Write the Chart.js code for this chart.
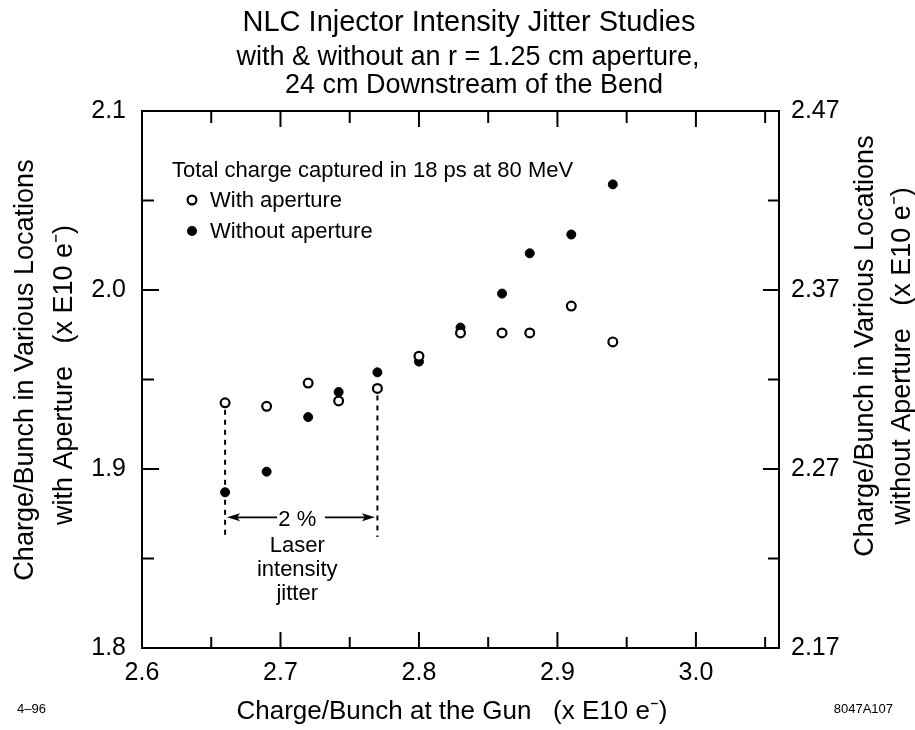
<!DOCTYPE html>
<html><head><meta charset="utf-8">
<script src="https://cdn.jsdelivr.net/npm/chart.js@4.4.1/dist/chart.umd.min.js"></script>
<style>html,body{margin:0;padding:0;background:#fff}#wrap{width:915px;height:730px}</style>
</head><body><div id="wrap"><canvas id="c" width="915" height="730"></canvas></div>
<script>
// ---------- data ----------
const titleLines = ['NLC Injector Intensity Jitter Studies', 'with & without an r = 1.25 cm aperture,', '24 cm Downstream of the Bend'];
const legendHeader = 'Total charge captured in 18 ps at 80 MeV';
const seriesNames = ['With aperture', 'Without aperture'];
const xTitle = 'Charge/Bunch at the Gun   (x E10 e\u207B)';
const yTitleLines = ['Charge/Bunch in Various Locations', 'with Aperture   (x E10 e\u207B)'];
const y2TitleLines = ['Charge/Bunch in Various Locations', 'without Aperture   (x E10 e\u207B)'];
const cornerNotes = ['4\u201396', '8047A107'];
const jitterLabels = ['2 %', 'Laser', 'intensity', 'jitter'];

const gunCharge = [2.66, 2.69, 2.72, 2.742, 2.77, 2.80, 2.83, 2.86, 2.88, 2.91, 2.94];
const withAperture = [1.937, 1.935, 1.948, 1.938, 1.945, 1.963, 1.976, 1.976, 1.976, 1.991, 1.971];
const withoutAperture = [2.257, 2.2685, 2.299, 2.313, 2.324, 2.330, 2.349, 2.368, 2.3905, 2.401, 2.429];

const xTicks = [2.6, 2.7, 2.8, 2.9, 3.0];
const xMinorTicks = [2.65, 2.75, 2.85, 2.95, 3.05];
const yTicks = [1.8, 1.9, 2.0, 2.1];
const yMinorTicks = [1.85, 1.95, 2.05];
const y2Ticks = [2.17, 2.27, 2.37, 2.47];
const y2MinorTicks = [2.22, 2.32, 2.42];

const jitterX = [2.66, 2.77];
const jitterTopY = [1.937, 1.945];
const jitterBottomY = 1.862;
const arrowY = 1.873;

// ---------- chart ----------
const FONT = "'Liberation Sans', Arial, Helvetica, sans-serif";
Chart.defaults.font.family = FONT;
Chart.defaults.color = '#000';

function line(ctx, x1, y1, x2, y2) { ctx.beginPath(); ctx.moveTo(x1, y1); ctx.lineTo(x2, y2); ctx.stroke(); }
function openDot(ctx, x, y) { ctx.beginPath(); ctx.arc(x, y, 4.4, 0, Math.PI * 2); ctx.fillStyle = '#fff'; ctx.fill(); ctx.lineWidth = 2.2; ctx.strokeStyle = '#000'; ctx.stroke(); }
function fullDot(ctx, x, y) { ctx.beginPath(); ctx.arc(x, y, 5, 0, Math.PI * 2); ctx.fillStyle = '#000'; ctx.fill(); }

const deco = {
  id: 'deco',
  beforeDatasetsDraw(chart) {
    const ctx = chart.ctx, a = chart.chartArea, sx = chart.scales.x, sy = chart.scales.y, sy2 = chart.scales.y2;
    ctx.save();
    ctx.strokeStyle = '#000'; ctx.lineWidth = 2;
    xTicks.forEach(v => { const p = sx.getPixelForValue(v); line(ctx, p, a.bottom, p, a.bottom - 16); line(ctx, p, a.top, p, a.top + 16); });
    xMinorTicks.forEach(v => { const p = sx.getPixelForValue(v); line(ctx, p, a.bottom, p, a.bottom - 11); line(ctx, p, a.top, p, a.top + 12); });
    yTicks.forEach(v => { const p = sy.getPixelForValue(v); line(ctx, a.left, p, a.left + 17, p); });
    yMinorTicks.forEach(v => { const p = sy.getPixelForValue(v); line(ctx, a.left, p, a.left + 12, p); });
    y2Ticks.forEach(v => { const p = sy2.getPixelForValue(v); line(ctx, a.right, p, a.right - 16, p); });
    y2MinorTicks.forEach(v => { const p = sy2.getPixelForValue(v); line(ctx, a.right, p, a.right - 11, p); });
    // dashed jitter markers
    ctx.setLineDash([5, 5]); ctx.lineWidth = 2;
    jitterX.forEach((v, i) => {
      const p = sx.getPixelForValue(v);
      line(ctx, p, sy.getPixelForValue(jitterTopY[i]) + 7, p, sy.getPixelForValue(jitterBottomY));
    });
    ctx.setLineDash([]);
    // arrows
    const xl = sx.getPixelForValue(jitterX[0]) + 2, xr = sx.getPixelForValue(jitterX[1]) - 2.5, ay = sy.getPixelForValue(arrowY);
    ctx.lineWidth = 1.6;
    line(ctx, xl + 8, ay, xl + 50, ay);
    line(ctx, xr - 50, ay, xr - 8, ay);
    ctx.fillStyle = '#000';
    ctx.beginPath(); ctx.moveTo(xl, ay); ctx.lineTo(xl + 13, ay - 4); ctx.lineTo(xl + 10, ay); ctx.lineTo(xl + 13, ay + 4); ctx.closePath(); ctx.fill();
    ctx.beginPath(); ctx.moveTo(xr, ay); ctx.lineTo(xr - 13, ay - 4); ctx.lineTo(xr - 10, ay); ctx.lineTo(xr - 13, ay + 4); ctx.closePath(); ctx.fill();
    ctx.restore();
  },
  afterDraw(chart) {
    const ctx = chart.ctx, sx = chart.scales.x, sy = chart.scales.y;
    ctx.save();
    ctx.fillStyle = '#000'; ctx.textBaseline = 'alphabetic'; ctx.textAlign = 'center';
    // titles
    ctx.font = `29px ${FONT}`; ctx.fillText(titleLines[0], 469, 31);
    ctx.font = `27px ${FONT}`; ctx.fillText(titleLines[1], 468, 65);
    ctx.fillText(titleLines[2], 474, 93);
    // x title
    ctx.font = `26px ${FONT}`; ctx.fillText(xTitle, 452, 719);
    // y titles (rotated, reading upward)
    ctx.font = `27px ${FONT}`;
    const rot = (txt, x, y) => { ctx.save(); ctx.translate(x, y); ctx.rotate(-Math.PI / 2); ctx.fillText(txt, 0, 0); ctx.restore(); };
    rot(yTitleLines[0], 33, 370);
    rot(yTitleLines[1], 72, 375);
    rot(y2TitleLines[0], 873, 346);
    rot(y2TitleLines[1], 910, 356);
    // corner notes
    ctx.font = `13px ${FONT}`; ctx.textAlign = 'left'; ctx.fillText(cornerNotes[0], 17, 713);
    ctx.textAlign = 'right'; ctx.fillText(cornerNotes[1], 893, 713);
    // legend
    ctx.textAlign = 'left'; ctx.font = `22px ${FONT}`;
    ctx.fillText(legendHeader, 172, 177);
    openDot(ctx, 192, 200);
    ctx.fillStyle = '#000'; ctx.fillText(seriesNames[0], 210, 207);
    fullDot(ctx, 192, 231);
    ctx.fillStyle = '#000'; ctx.fillText(seriesNames[1], 210, 238);
    // jitter annotation text
    ctx.textAlign = 'center'; ctx.font = `22px ${FONT}`;
    const cx = (sx.getPixelForValue(jitterX[0]) + sx.getPixelForValue(jitterX[1])) / 2 - 4;
    const ay = sy.getPixelForValue(arrowY);
    ctx.fillText(jitterLabels[0], cx, ay + 9);
    ctx.fillText(jitterLabels[1], cx, ay + 35);
    ctx.fillText(jitterLabels[2], cx, ay + 59);
    ctx.fillText(jitterLabels[3], cx, ay + 83);
    ctx.restore();
  }
};

const setTicks = arr => s => { s.ticks = arr.map(v => ({ value: v })); };

new Chart(document.getElementById('c'), {
  type: 'scatter',
  data: {
    datasets: [
      { label: seriesNames[0], data: gunCharge.map((x, i) => ({ x, y: withAperture[i] })), yAxisID: 'y',
        pointStyle: 'circle', pointRadius: 4.4, pointBorderWidth: 2.2, pointBackgroundColor: '#fff', pointBorderColor: '#000' },
      { label: seriesNames[1], data: gunCharge.map((x, i) => ({ x, y: withoutAperture[i] })), yAxisID: 'y2',
        pointStyle: 'circle', pointRadius: 4.5, pointBorderWidth: 1, pointBackgroundColor: '#000', pointBorderColor: '#000' }
    ]
  },
  options: {
    responsive: false, animation: false, events: [],
    layout: { padding: 0 },
    plugins: { legend: { display: false }, tooltip: { enabled: false }, title: { display: false } },
    scales: {
      x: { type: 'linear', position: 'bottom', min: 2.6, max: 3.06,
        afterBuildTicks: setTicks(xTicks), afterFit: s => { s.height = 82; },
        grid: { display: false, drawTicks: false }, border: { display: true, width: 2, color: '#000' },
        ticks: { autoSkip: false, maxRotation: 0, padding: 10, font: { size: 25 }, color: '#000', callback: v => Number(v).toFixed(1) } },
      x2: { type: 'linear', position: 'top', min: 2.6, max: 3.06, afterFit: s => { s.height = 111; },
        grid: { display: false, drawTicks: false }, border: { display: true, width: 2, color: '#000' }, ticks: { display: false } },
      y: { type: 'linear', position: 'left', min: 1.8, max: 2.1,
        afterBuildTicks: setTicks(yTicks), afterFit: s => { s.width = 142; },
        grid: { display: false, drawTicks: false }, border: { display: true, width: 2, color: '#000' },
        ticks: { autoSkip: false, padding: 16, font: { size: 25 }, color: '#000', callback: v => Number(v).toFixed(1) } },
      y2: { type: 'linear', position: 'right', min: 2.17, max: 2.47,
        afterBuildTicks: setTicks(y2Ticks), afterFit: s => { s.width = 136; },
        grid: { display: false, drawTicks: false }, border: { display: true, width: 2, color: '#000' },
        ticks: { autoSkip: false, padding: 12, font: { size: 25 }, color: '#000', callback: v => Number(v).toFixed(2) } }
    }
  },
  plugins: [deco]
});
</script></body></html>
